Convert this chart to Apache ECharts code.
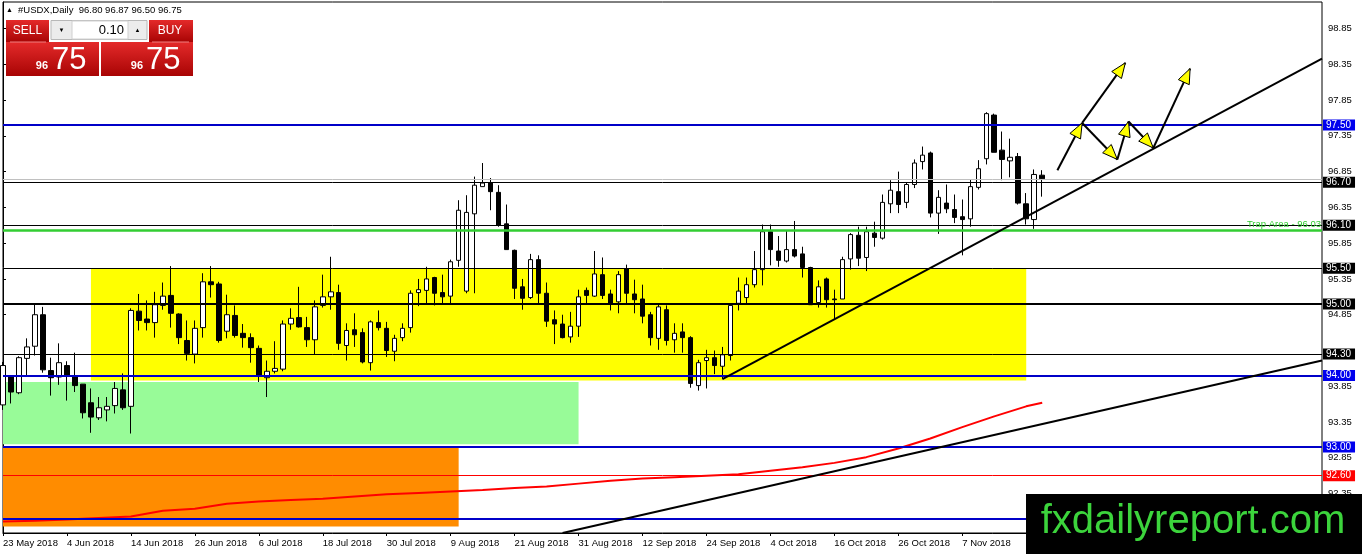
<!DOCTYPE html>
<html>
<head>
<meta charset="utf-8">
<script src="https://cdn.jsdelivr.net/npm/echarts@6/dist/echarts.min.js"></script>
<style>
html, body { margin: 0; padding: 0; background: #fff; }
#chart { width: 1362px; height: 554px; }
</style>
</head>
<body>
<div id="chart"></div>
<script>
// #USDX daily bars, bar 0 = 23 May 2018, last bar (130) = 21 Nov 2018
const opens = [
  93.59, 93.98, 93.76, 94.24, 94.41, 94.85, 94.07, 93.98, 94.14, 93.99,
  93.88, 93.62, 93.41, 93.52, 93.58, 93.80, 93.57, 94.90, 94.79, 94.74,
  94.98, 95.12, 94.86, 94.49, 94.30, 94.67, 95.31, 95.28, 94.62, 94.84,
  94.59, 94.53, 94.38, 93.97, 94.06, 94.09, 94.72, 94.81, 94.67, 94.50,
  94.98, 95.10, 95.16, 94.42, 94.64, 94.60, 94.18, 94.74, 94.66, 94.34,
  94.53, 94.67, 95.16, 95.19, 95.37, 95.16, 95.11, 95.61, 95.18, 96.26,
  96.64, 96.69, 96.56, 96.12, 95.75, 95.24, 95.09, 95.62, 95.15, 94.78,
  94.72, 94.54, 94.69, 95.19, 95.11, 95.41, 95.14, 95.03, 95.49, 95.14,
  95.07, 94.85, 94.52, 94.92, 94.50, 94.61, 94.53, 93.86, 94.21, 94.25,
  94.13, 94.28, 95.01, 95.09, 95.27, 95.48, 96.01, 95.74, 95.60, 95.76,
  95.70, 95.51, 95.02, 95.35, 95.07, 95.07, 95.63, 95.96, 95.65, 95.99,
  95.92, 96.40, 96.57, 96.42, 96.67, 96.99, 97.11, 96.27, 96.41, 96.32,
  96.22, 96.19, 96.63, 97.03, 97.64, 97.15, 97.00, 97.06, 96.40, 96.18,
  96.80
];
const highs = [
  94.19, 94.00, 94.27, 94.52, 95.00, 94.96, 94.25, 94.45, 94.20, 94.32,
  93.88, 93.82, 93.70, 93.70, 93.91, 94.03, 94.94, 95.14, 95.05, 95.17,
  95.30, 95.53, 94.87, 94.77, 94.77, 95.43, 95.53, 95.31, 95.13, 94.98,
  94.72, 94.59, 94.42, 94.21, 94.48, 94.77, 94.94, 95.24, 94.82, 95.05,
  95.41, 95.66, 95.27, 94.73, 94.87, 94.66, 94.77, 94.91, 94.75, 94.57,
  94.73, 95.19, 95.35, 95.52, 95.38, 95.41, 95.62, 96.45, 96.52, 96.78,
  96.97, 96.76, 96.66, 96.39, 95.76, 95.35, 95.70, 95.68, 95.30, 94.91,
  94.85, 94.89, 95.20, 95.23, 95.74, 95.65, 95.20, 95.46, 95.55, 95.34,
  95.27, 94.89, 95.00, 94.98, 94.73, 94.73, 94.55, 94.22, 94.36, 94.35,
  94.40, 94.98, 95.37, 95.37, 95.74, 96.11, 96.11, 95.95, 96.02, 96.16,
  95.80, 95.52, 95.33, 95.37, 95.20, 95.66, 95.99, 96.08, 96.08, 96.15,
  96.53, 96.73, 96.85, 96.70, 97.02, 97.20, 97.13, 96.59, 96.67, 96.53,
  96.46, 96.74, 97.01, 97.68, 97.66, 97.41, 97.31, 97.11, 96.55, 96.88,
  96.87
];
const lows = [
  93.52, 93.61, 93.74, 93.98, 94.28, 94.04, 93.72, 93.87, 93.65, 93.77,
  93.40, 93.20, 93.38, 93.36, 93.47, 93.52, 93.19, 94.63, 94.63, 94.53,
  94.92, 94.67, 94.44, 94.21, 94.17, 94.53, 95.09, 94.46, 94.52, 94.53,
  94.39, 94.18, 93.91, 93.70, 94.03, 94.06, 94.64, 94.67, 94.40, 94.30,
  94.95, 94.92, 94.36, 94.21, 94.40, 94.17, 94.07, 94.63, 94.26, 94.20,
  94.48, 94.60, 94.97, 95.01, 94.98, 95.01, 95.00, 95.52, 95.15, 95.15,
  96.64, 96.31, 96.08, 95.76, 95.07, 94.92, 95.07, 95.00, 94.68, 94.44,
  94.52, 94.46, 94.54, 95.00, 95.10, 95.07, 94.91, 94.87, 95.00, 94.87,
  94.73, 94.42, 94.36, 94.42, 94.32, 94.32, 93.83, 93.79, 93.82, 94.02,
  93.95, 94.21, 94.91, 95.01, 95.23, 95.26, 95.54, 95.52, 95.58, 95.65,
  95.37, 94.99, 94.95, 94.95, 94.78, 95.07, 95.48, 95.53, 95.46, 95.80,
  95.90, 96.27, 96.27, 96.34, 96.62, 96.88, 96.21, 95.98, 96.27, 96.13,
  95.68, 96.08, 96.60, 96.95, 97.12, 96.73, 96.77, 96.39, 96.11, 96.05,
  96.50
];
const closes = [
  94.14, 93.77, 94.25, 94.40, 94.85, 94.08, 93.97, 94.18, 93.99, 93.86,
  93.48, 93.42, 93.55, 93.57, 93.82, 93.55, 94.91, 94.77, 94.74, 94.99,
  95.11, 94.87, 94.53, 94.31, 94.66, 95.31, 95.27, 94.49, 94.85, 94.56,
  94.53, 94.39, 94.00, 94.06, 94.10, 94.72, 94.80, 94.68, 94.50, 94.96,
  95.10, 95.17, 94.45, 94.63, 94.57, 94.19, 94.75, 94.67, 94.35, 94.52,
  94.66, 95.15, 95.20, 95.35, 95.15, 95.10, 95.59, 96.31, 96.28, 96.66,
  96.69, 96.57, 96.10, 95.76, 95.22, 95.08, 95.62, 95.15, 94.76, 94.72,
  94.53, 94.69, 95.10, 95.12, 95.42, 95.12, 95.00, 95.41, 95.15, 95.06,
  94.83, 94.53, 94.96, 94.49, 94.59, 94.53, 93.89, 94.18, 94.25, 94.14,
  94.29, 94.98, 95.18, 95.27, 95.48, 96.01, 95.76, 95.61, 95.76, 95.67,
  95.51, 94.99, 95.24, 95.06, 95.06, 95.62, 95.97, 95.64, 96.01, 95.93,
  96.42, 96.59, 96.39, 96.67, 96.97, 97.08, 96.27, 96.49, 96.33, 96.21,
  96.18, 96.64, 96.89, 97.66, 97.12, 97.02, 97.05, 96.41, 96.19, 96.81,
  96.75
];

// x axis labels, one every 8 bars
const dateLabelBars = [0, 8, 16, 24, 32, 40, 48, 56, 64, 72, 80, 88, 96, 104, 112, 120];
const dateLabels = ['23 May 2018', '4 Jun 2018', '14 Jun 2018', '26 Jun 2018', '6 Jul 2018',
  '18 Jul 2018', '30 Jul 2018', '9 Aug 2018', '21 Aug 2018', '31 Aug 2018', '12 Sep 2018',
  '24 Sep 2018', '4 Oct 2018', '16 Oct 2018', '26 Oct 2018', '7 Nov 2018'];

// price scale labels (94.35 sits under the 94.30 tag)
const priceTicks = [92.35, 92.85, 93.35, 93.85, 94.85, 95.35, 95.85, 96.35, 96.85, 97.35, 97.85, 98.35, 98.85];

// horizontal levels
const levelValues = [97.50, 96.70, 96.10, 95.50, 95.00, 94.30, 94.00, 93.00, 92.60, 92.00];
const bidPrice = 96.75;
const trapPrice = 96.03;

// red moving average
const maBars = [0, 4, 8, 12, 16, 20, 24, 28, 32, 36, 40, 44, 48, 52, 56, 60, 64,
  68, 72, 76, 80, 84, 88, 92, 96, 100, 104, 108, 112, 116, 120, 124, 128, 130];
const maValues = [91.96, 91.97, 91.99, 92.01, 92.03, 92.11, 92.14, 92.21, 92.24, 92.26, 92.28,
  92.31, 92.34, 92.36, 92.38, 92.40, 92.43, 92.45, 92.49, 92.53, 92.56, 92.58, 92.60,
  92.62, 92.67, 92.72, 92.78, 92.86, 92.98, 93.12, 93.28, 93.43, 93.57, 93.62];

// rectangles: yellow range, green, orange
const zoneFromBar = [11, 0, 0];
const zoneToBar = [128, 72, 57];
const zoneLow = [93.93, 93.04, 91.89];
const zoneHigh = [95.50, 93.91, 92.99];

// trend lines
const trendFromBar = [90, 70];
const trendFromPrice = [93.95, 91.80];
const trendToBar = [165, 165];
const trendToPrice = [98.43, 94.21];

// projected path arrows
const arrowFromBar = [131.9, 135.0, 135.0, 139.4, 140.8, 143.9];
const arrowFromPrice = [96.87, 97.53, 97.53, 97.02, 97.55, 97.18];
const arrowToBar = [135.0, 140.4, 139.4, 140.8, 143.9, 148.5];
const arrowToPrice = [97.53, 98.37, 97.02, 97.55, 97.18, 98.29];

// ---- styles ----
const FONT = '"Liberation Sans", Arial, sans-serif';
const BLUE = '#0000c8', BLUE_TAG = '#0000ee';
const levelStyle = [
  [BLUE, 2, BLUE_TAG], ['#000', 1, '#000'], ['#000', 1, '#000'], ['#000', 1, '#000'],
  ['#000', 2, '#000'], ['#000', 1, '#000'], [BLUE, 2, BLUE_TAG], [BLUE, 2, BLUE_TAG],
  ['#ff0000', 1, '#ff0000'], [BLUE, 2, BLUE_TAG]
];
const zoneColors = ['#ffff00', '#98fb98', '#ff8c00'];

const candleData = opens.map((o, i) => [i, o, closes[i], lows[i], highs[i]]);

const levelLines = levelValues.map((v, i) => ({
  yAxis: v,
  lineStyle: { color: levelStyle[i][0], width: levelStyle[i][1], type: 'solid' },
  label: {
    show: true, position: 'end', distance: 1, formatter: v.toFixed(2),
    color: '#fff', backgroundColor: levelStyle[i][2], padding: [1, 4, 0, 3],
    fontFamily: FONT, fontSize: 10, lineHeight: 10
  }
}));
levelLines.push({
  yAxis: bidPrice, lineStyle: { color: '#c0c0c0', width: 1, type: 'solid' }, label: { show: false }
});
levelLines.push({
  yAxis: trapPrice, lineStyle: { color: '#32cd32', width: 2.5, type: 'solid' },
  label: {
    show: true, position: 'insideEndTop', distance: 1, formatter: 'Trap Area - ' + trapPrice.toFixed(2),
    color: '#32cd32', fontFamily: FONT, fontSize: 9.5
  }
});

const red = {
  type: 'linear', x: 0, y: 0, x2: 0, y2: 1,
  colorStops: [{ offset: 0, color: '#e42a2a' }, { offset: 1, color: '#a80404' }]
};

const chart = echarts.init(document.getElementById('chart'));
chart.setOption({
  animation: false,
  backgroundColor: '#fff',
  grid: { left: 3, right: 40, top: 2, bottom: 21, show: true, borderColor: '#000', borderWidth: 1, backgroundColor: '#fff' },
  xAxis: {
    type: 'value', min: 0, max: 165,
    splitLine: { show: false },
    axisLine: { lineStyle: { color: '#000', width: 1 } },
    axisTick: { show: true, inside: false, length: 3, customValues: dateLabelBars, lineStyle: { color: '#000' } },
    axisLabel: {
      customValues: dateLabelBars, align: 'left', margin: 5,
      color: '#000', fontFamily: FONT, fontSize: 9.5,
      formatter: v => dateLabels[dateLabelBars.indexOf(Math.round(v))] || ''
    }
  },
  yAxis: {
    type: 'value', position: 'right', min: 91.80, max: 99.22,
    splitLine: { show: false },
    axisLine: { show: true, lineStyle: { color: '#000', width: 1 } },
    axisTick: { show: true, inside: false, length: 3, customValues: priceTicks, lineStyle: { color: '#000' } },
    axisLabel: {
      customValues: priceTicks, margin: 6, color: '#000', fontFamily: FONT, fontSize: 9.5,
      formatter: v => v.toFixed(2)
    }
  },
  series: [
    {
      type: 'line', data: [], z: 1, silent: true,
      markArea: {
        silent: true,
        data: zoneFromBar.map((b, i) => [
          { xAxis: b, yAxis: zoneHigh[i], itemStyle: { color: zoneColors[i], opacity: 1 } },
          { xAxis: zoneToBar[i], yAxis: zoneLow[i] }
        ])
      }
    },
    {
      type: 'candlestick', z: 2, silent: true, clip: true,
      barWidth: 5,
      encode: { x: 0, y: [1, 2, 3, 4] },
      data: candleData,
      itemStyle: { color: '#fff', color0: '#000', borderColor: '#000', borderColor0: '#000', borderWidth: 1 }
    },
    {
      type: 'line', z: 3, silent: true, symbol: 'none', clip: true,
      data: maBars.map((b, i) => [b, maValues[i]]),
      lineStyle: { color: '#ff0000', width: 2 }
    },
    {
      type: 'line', data: [], z: 4, silent: true,
      markLine: { silent: true, symbol: ['none', 'none'], data: levelLines }
    },
    ...trendFromBar.map((b, i) => ({
      type: 'line', z: 5, silent: true, symbol: 'none', clip: true,
      data: [[b, trendFromPrice[i]], [trendToBar[i], trendToPrice[i]]],
      lineStyle: { color: '#000', width: 2 }
    })),
    {
      type: 'custom', z: 6, silent: true, clip: false,
      encode: { x: [0, 2], y: [1, 3] },
      data: arrowFromBar.map((b, i) => [b, arrowFromPrice[i], arrowToBar[i], arrowToPrice[i]]),
      renderItem: function (params, api) {
        const a = api.coord([api.value(0), api.value(1)]);
        const b = api.coord([api.value(2), api.value(3)]);
        const dx = b[0] - a[0], dy = b[1] - a[1];
        const len = Math.sqrt(dx * dx + dy * dy);
        const ux = dx / len, uy = dy / len;
        const L = 15, W = 6;
        const bx = b[0] - ux * L, by = b[1] - uy * L;
        return {
          type: 'group',
          children: [
            { type: 'line', shape: { x1: a[0], y1: a[1], x2: b[0], y2: b[1] }, style: { stroke: '#000', lineWidth: 2 } },
            {
              type: 'polygon',
              shape: { points: [[b[0], b[1]], [bx - uy * W, by + ux * W], [bx + uy * W, by - ux * W]] },
              style: { fill: '#ffff00', stroke: '#000', lineWidth: 1 }
            }
          ]
        };
      }
    }
  ],
  graphic: [
    // header
    { type: 'text', z: 100, x: 6, y: 10, style: { text: '▲', font: '7px ' + FONT, fill: '#000', verticalAlign: 'middle', textVerticalAlign: 'middle' } },
    { type: 'text', z: 100, x: 18, y: 10, style: { text: '#USDX,Daily  96.80 96.87 96.50 96.75', font: '9.5px ' + FONT, fill: '#000', verticalAlign: 'middle', textVerticalAlign: 'middle' } },
    // one click trading panel
    { type: 'rect', z: 100, shape: { x: 6, y: 20, width: 43, height: 22 }, style: { fill: red } },
    { type: 'rect', z: 100, shape: { x: 149, y: 20, width: 44, height: 22 }, style: { fill: red } },
    { type: 'rect', z: 100, shape: { x: 6, y: 42, width: 93, height: 34 }, style: { fill: red } },
    { type: 'rect', z: 100, shape: { x: 101, y: 42, width: 92, height: 34 }, style: { fill: red } },
    { type: 'line', z: 101, shape: { x1: 10, y1: 42, x2: 46, y2: 42 }, style: { stroke: '#f08080', lineWidth: 1 } },
    { type: 'line', z: 101, shape: { x1: 152, y1: 42, x2: 189, y2: 42 }, style: { stroke: '#f08080', lineWidth: 1 } },
    { type: 'rect', z: 100, shape: { x: 51, y: 20.5, width: 96, height: 19 }, style: { fill: '#ececec', stroke: '#b8b8b8', lineWidth: 1 } },
    { type: 'rect', z: 101, shape: { x: 72, y: 21, width: 56, height: 18 }, style: { fill: '#fff', stroke: '#d0d0d0', lineWidth: 1 } },
    { type: 'text', z: 102, x: 61.5, y: 30, style: { text: '▼', font: '6px ' + FONT, fill: '#000', align: 'center', textAlign: 'center', verticalAlign: 'middle', textVerticalAlign: 'middle' } },
    { type: 'text', z: 102, x: 137.5, y: 30, style: { text: '▲', font: '6px ' + FONT, fill: '#000', align: 'center', textAlign: 'center', verticalAlign: 'middle', textVerticalAlign: 'middle' } },
    { type: 'text', z: 102, x: 124, y: 30, style: { text: '0.10', font: '13px ' + FONT, fill: '#000', align: 'right', textAlign: 'right', verticalAlign: 'middle', textVerticalAlign: 'middle' } },
    { type: 'text', z: 102, x: 27.5, y: 31, style: { text: 'SELL', font: '12px "Liberation Sans Narrow", ' + FONT, fill: '#fff', align: 'center', textAlign: 'center', verticalAlign: 'middle', textVerticalAlign: 'middle' } },
    { type: 'text', z: 102, x: 170, y: 31, style: { text: 'BUY', font: '12px "Liberation Sans Narrow", ' + FONT, fill: '#fff', align: 'center', textAlign: 'center', verticalAlign: 'middle', textVerticalAlign: 'middle' } },
    { type: 'text', z: 102, x: 48, y: 66, style: { text: '96', font: 'bold 11px ' + FONT, fill: '#fff', align: 'right', textAlign: 'right', verticalAlign: 'middle', textVerticalAlign: 'middle' } },
    { type: 'text', z: 102, x: 52, y: 60, style: { text: '75', font: '31px ' + FONT, fill: '#fff', align: 'left', textAlign: 'left', verticalAlign: 'middle', textVerticalAlign: 'middle' } },
    { type: 'text', z: 102, x: 143, y: 66, style: { text: '96', font: 'bold 11px ' + FONT, fill: '#fff', align: 'right', textAlign: 'right', verticalAlign: 'middle', textVerticalAlign: 'middle' } },
    { type: 'text', z: 102, x: 146, y: 60, style: { text: '75', font: '31px ' + FONT, fill: '#fff', align: 'left', textAlign: 'left', verticalAlign: 'middle', textVerticalAlign: 'middle' } },
    // watermark
    { type: 'rect', z: 110, shape: { x: 1026, y: 494, width: 336, height: 60 }, style: { fill: '#000' } },
    { type: 'text', z: 111, x: 1193, y: 522, style: { text: 'fxdailyreport.com', font: '40px ' + FONT, fill: '#3cd43c', align: 'center', textAlign: 'center', verticalAlign: 'middle', textVerticalAlign: 'middle' } }
  ]
});
</script>
</body>
</html>
